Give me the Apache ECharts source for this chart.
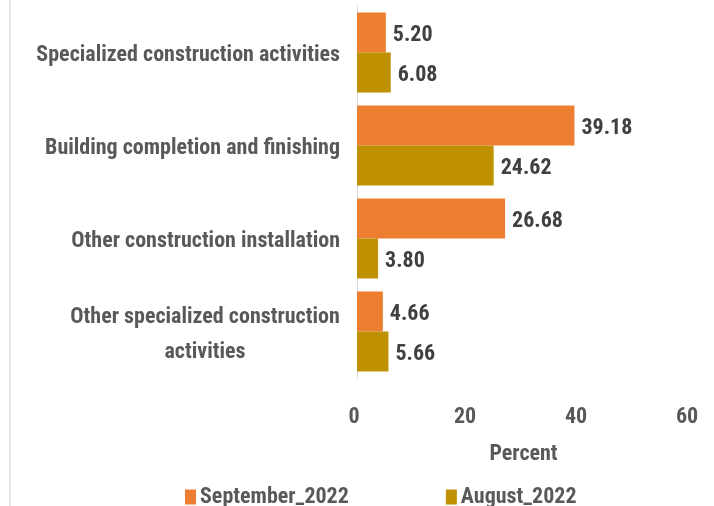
<!DOCTYPE html>
<html><head><meta charset="utf-8">
<script src="https://cdn.jsdelivr.net/npm/echarts@6/dist/echarts.min.js"></script>
<style>html,body{margin:0;padding:0;background:#fff}#c{width:714px;height:506px}</style>
</head><body><div id="c"></div>
<script>
var categories = ["Specialized construction activities", "Building completion and finishing", "Other construction installation", "Other specialized construction\nactivities"];
var september2022 = [5.20, 39.18, 26.68, 4.66];
var august2022 = [6.08, 24.62, 3.80, 5.66];
var seriesNames = ["September_2022", "August_2022"];
var xTicks = { min: 0, max: 60, interval: 20 };

var FONT = '"Roboto Condensed", "DejaVu Sans Condensed", sans-serif';
var chart = echarts.init(document.getElementById('c'));
var valLabel = {
  show: true, position: 'right', distance: 7, offset: [0, 3],
  color: '#404040', fontSize: 22, fontWeight: 'bold', fontFamily: FONT,
  formatter: function (p) { return p.value.toFixed(2); }
};
chart.setOption({
  animation: false,
  graphic: [{ type: 'line', shape: { x1: 10, y1: 0, x2: 10, y2: 506 }, style: { stroke: '#e6e6e6', lineWidth: 2 } }],
  grid: { left: 357, right: 24, top: 6, bottom: 128, containLabel: false, outerBoundsMode: 'none' },
  legend: {
    top: 481, left: 180, itemGap: 97, itemWidth: 11, itemHeight: 15,
    icon: 'rect',
    textStyle: { color: '#595959', fontSize: 22, fontWeight: 'bold', fontFamily: FONT, padding: [0, 0, 0, -1] },
    data: seriesNames
  },
  xAxis: {
    type: 'value', min: xTicks.min, max: xTicks.max, interval: xTicks.interval,
    name: 'Percent', nameLocation: 'middle', nameGap: 65,
    nameTextStyle: { color: '#595959', fontSize: 22, fontWeight: 'bold', fontFamily: FONT },
    axisLine: { show: false }, axisTick: { show: false }, splitLine: { show: false },
    axisLabel: { color: '#595959', fontSize: 22, fontWeight: 'bold', fontFamily: FONT, margin: 28, padding: [0, 6, 0, 0] }
  },
  yAxis: {
    type: 'category', inverse: true, data: categories,
    axisLine: { show: true, lineStyle: { color: '#d9d9d9', width: 1 } },
    axisTick: { show: false },
    axisLabel: {
      color: '#595959', fontSize: 22, fontWeight: 'bold', fontFamily: FONT, margin: 17,
      align: 'right', lineHeight: 35, padding: [6, 0, 0, 0],
      formatter: function (v) {
        if (v.indexOf('\n') >= 0) {
          return v.split('\n').map(function (s) { return '{c|' + s + '}'; }).join('\n');
        }
        return v;
      },
      rich: { c: { width: 270, align: 'center', color: '#595959', fontSize: 22, fontWeight: 'bold', fontFamily: FONT, lineHeight: 35 } }
    }
  },
  series: [
    { name: seriesNames[0], type: 'bar', data: september2022, itemStyle: { color: '#ED7D31' },
      barGap: '0%', barCategoryGap: '14%', label: valLabel },
    { name: seriesNames[1], type: 'bar', data: august2022, itemStyle: { color: '#BF9000' },
      barGap: '0%', barCategoryGap: '14%', label: valLabel }
  ]
});
</script></body></html>
